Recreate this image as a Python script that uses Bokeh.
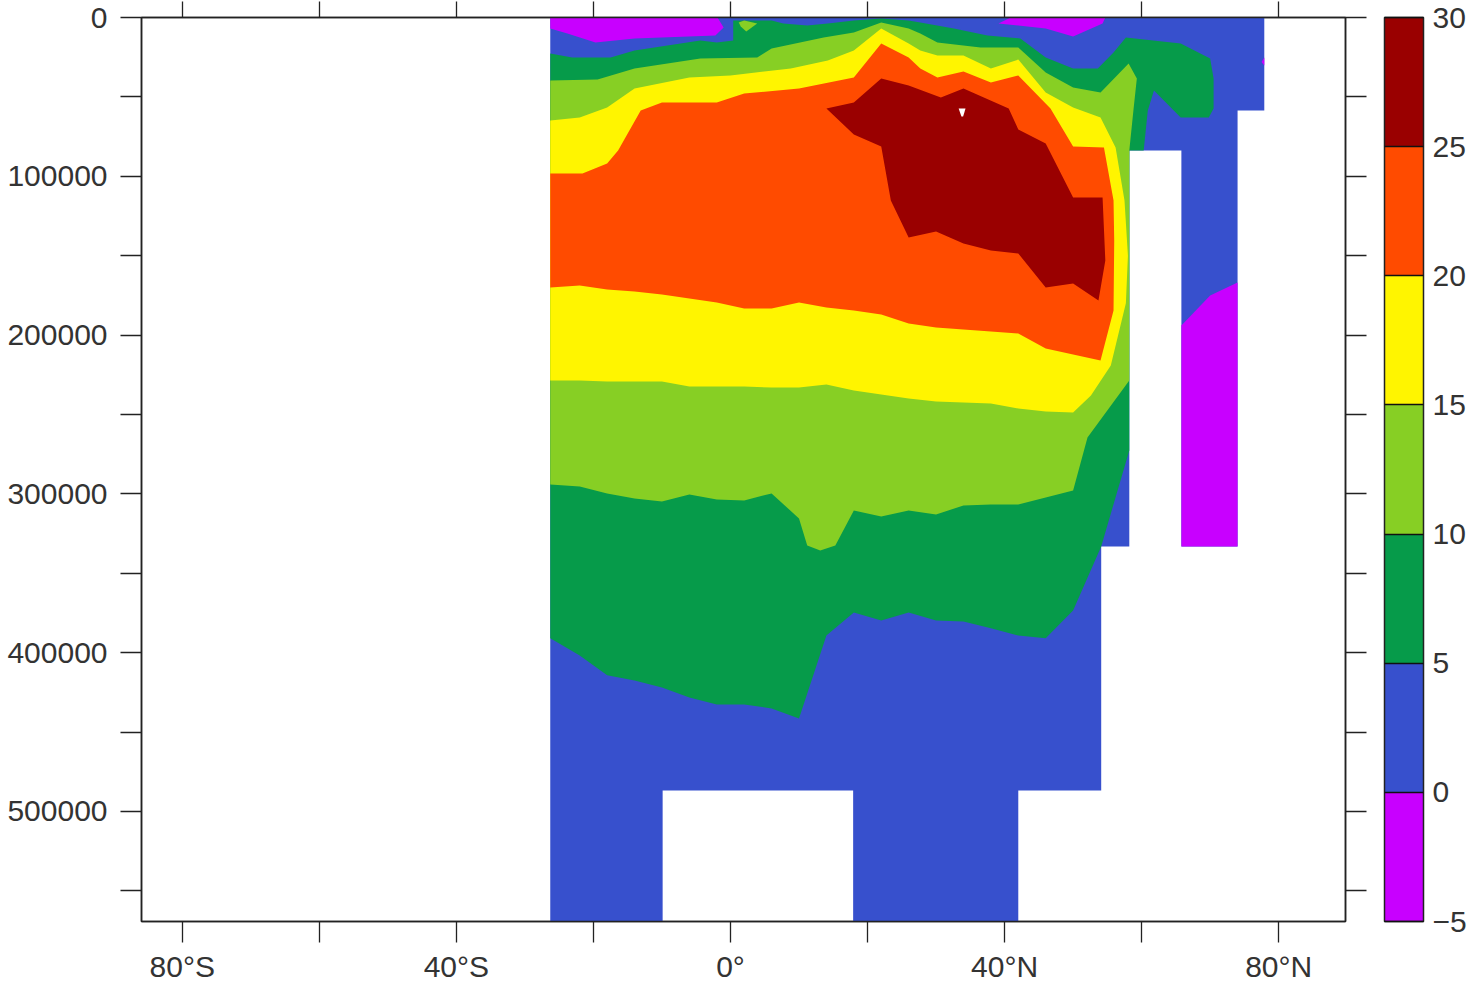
from bokeh.plotting import figure
from bokeh.models import FixedTicker, LinearAxis, Range1d, ColorBar, LinearColorMapper
from bokeh.embed import file_html
from bokeh.resources import INLINE

level_ticks = [-5, 0, 5, 10, 15, 20, 25, 30]
level_colors = ["#C800FF", "#3750CD", "#069B4A", "#87CF24", "#FFF500", "#FF4B00", "#9A0000"]
lat_ticks = [-80, -60, -40, -20, 0, 20, 40, 60, 80]
lat_labels = {-80: "80°S", -60: "", -40: "40°S", -20: "", 0: "0°", 20: "", 40: "40°N", 60: "", 80: "80°N"}
depth_ticks = [0, 50000, 100000, 150000, 200000, 250000, 300000, 350000, 400000, 450000, 500000, 550000]
depth_labels = {0: "0", 50000: "", 100000: "100000", 150000: "", 200000: "200000", 250000: "", 300000: "300000",
                350000: "", 400000: "400000", 450000: "", 500000: "500000", 550000: ""}
blank_lat = {t: "" for t in lat_ticks}
blank_depth = {t: "" for t in depth_ticks}

ocean_lat = [-26.3, 77.9, 77.9, 74, 74, 65.8, 65.8, 58.2, 58.2, 54.1, 54.1, 42, 42, 17.9, 17.9, -9.9, -9.9, -26.3]
ocean_depth = [0, 0, 58600, 58600, 333100, 333100, 83800, 83800, 333100, 333100, 486800, 486800, 569300, 569300,
               486800, 486800, 569300, 569300]

above5_lat = [-26.3, -23.1, -17.5, -14, -4.4, -2, 0.4, 0.4, 6, 7.7, 11.2, 14.2, 18, 22, 26, 27.7, 32.6, 37.5, 42.3,
              46, 50, 53.6, 55.9, 57.7, 65.7, 70, 70.5, 70.5, 69.8, 65.7, 61.8, 60.9, 60.3, 58.2, 58.2, 54.1, 50, 46,
              42, 38, 34, 30, 26, 22, 18, 14, 10, 6, 2, -2, -6, -10, -14, -18, -22, -26.3]
above5_depth = [22700, 25200, 25200, 20800, 14500, 15700, 14500, 1900, 1900, 3800, 5000, 3800, 1900, 600, 1900, 3100,
                6900, 11300, 13200, 25200, 32100, 32100, 22000, 12600, 16400, 25800, 38400, 57300, 63000, 63000,
                46000, 58600, 83800, 83800, 272700, 333100, 373400, 391000, 389200, 384700, 380300, 379700, 374700,
                379700, 374700, 389200, 441400, 435100, 432600, 432600, 428200, 421900, 417500, 414300, 401800, 391000]

above10_lat = [-26.3, -19.4, -14, -4.4, 3.9, 6, 13.6, 18, 22, 26, 27.7, 30.2, 36.5, 42, 46, 50, 54, 58.1, 59.3, 58.8,
               58.2, 58.2, 52.1, 50, 46, 42, 38, 34, 30, 26, 22, 18, 15.3, 13.1, 11.2, 10, 6, 2, -2, -6, -10, -14,
               -18, -22, -26.3]
above10_depth = [39700, 39000, 32100, 25800, 25200, 19500, 12600, 9400, 3100, 6900, 10100, 15700, 18900, 18900, 34600,
                 44100, 47200, 29000, 38400, 58600, 83800, 228600, 264500, 297900, 302300, 306700, 306700, 307300,
                 313000, 310400, 314200, 310400, 332500, 335600, 332500, 315500, 299700, 304100, 303500, 300400,
                 304800, 302900, 299700, 295300, 294100]
spot10_lat = [2, 1.2, 1.5, 2.3, 3.9]
spot10_depth = [1900, 3100, 5700, 8800, 3800]

above15_lat = [-26.3, -22, -18, -14, -6, 0, 8.8, 14.2, 18, 22, 26, 27.7, 30.2, 34, 38, 42, 46, 50, 54, 56.2, 57.5, 58,
               57.7, 55.5, 52.6, 50, 46, 42, 38, 34, 30, 26, 22, 18, 14, 10, 6, 2, -2, -6, -10, -14, -18, -22, -26.3]
above15_depth = [64900, 63000, 56700, 44700, 37800, 36500, 32100, 27100, 20800, 6900, 16400, 20800, 23900, 23900,
                 32100, 26500, 47200, 56700, 63000, 81900, 115200, 150000, 180000, 219100, 238000, 248700, 248100,
                 246200, 243100, 242400, 241800, 239900, 237400, 234900, 231100, 233000, 233000, 232400, 232400,
                 232400, 229200, 229200, 229200, 228600, 228600]

above20_lat = [-26.3, -21.6, -18, -16.4, -13.1, -10, -2, 2, 10, 18, 22, 26, 27.7, 30.2, 34, 38, 42, 46.7, 50, 54.5,
               55.9, 56, 55.9, 54, 50, 46, 42, 38, 34, 30, 26, 22, 18, 14, 10, 6, 2, -2, -6, -10, -14, -18, -22, -26.3]
above20_depth = [98200, 98200, 91900, 83800, 58600, 53500, 53500, 47900, 44700, 37800, 16400, 25200, 32100, 37800,
                 34000, 40900, 36500, 57300, 81200, 81900, 115200, 140400, 184500, 216000, 212200, 208400, 199000,
                 197700, 196500, 195200, 192700, 187000, 184500, 182600, 179500, 183200, 183200, 179500, 176900,
                 174400, 172500, 171300, 168800, 170000]

above25_lat = [14, 18, 22, 26, 30.7, 34, 40.6, 42, 46, 50, 54.3, 54.7, 53.7, 50, 46, 42, 38, 34, 30, 26, 23.4, 22, 18]
above25_depth = [57300, 53500, 38400, 42800, 50400, 44700, 57300, 70500, 79300, 113300, 113300, 153000, 178200, 167500,
                 170000, 148600, 146700, 142300, 134800, 138500, 115200, 81200, 73700]
hole_lat = [33.3, 34.3, 33.95, 33.7]
hole_depth = [57300, 57300, 62300, 62300]

below0a_lat = [-26.3, -1.9, -1, -2.2, -14, -19.7, -23.8, -26.3]
below0a_depth = [0, 0, 6300, 11300, 13200, 15700, 10100, 6900]
below0b_lat = [39.1, 40.9, 54.7, 54.3, 50, 46]
below0b_depth = [3800, 0, 0, 3800, 12000, 6900]
below0c_lat = [77.9, 77.5, 77.9]
below0c_depth = [25200, 28000, 30200]
below0d_lat = [65.8, 70, 74, 74, 65.8]
below0d_depth = [193900, 175100, 166900, 333100, 333100]

FONT = "Liberation Sans"
INK = "#333333"

p = figure(frame_width=1204, frame_height=904, output_backend="svg", toolbar_location=None,
           x_range=Range1d(-85.95, 89.75), y_range=Range1d(569300, 0),
           min_border_left=141, min_border_top=17, min_border_right=0, min_border_bottom=0,
           x_axis_location=None, y_axis_location=None, background_fill_color="white",
           outline_line_color="#222222", outline_line_width=1.5)
p.grid.visible = False

layers = [
    (ocean_lat, ocean_depth, level_colors[1]),
    (below0a_lat, below0a_depth, level_colors[0]),
    (below0b_lat, below0b_depth, level_colors[0]),
    (below0c_lat, below0c_depth, level_colors[0]),
    (below0d_lat, below0d_depth, level_colors[0]),
    (above5_lat, above5_depth, level_colors[2]),
    (spot10_lat, spot10_depth, level_colors[3]),
    (above10_lat, above10_depth, level_colors[3]),
    (above15_lat, above15_depth, level_colors[4]),
    (above20_lat, above20_depth, level_colors[5]),
    (above25_lat, above25_depth, level_colors[6]),
    (hole_lat, hole_depth, "white"),
]
for xs, ys, col in layers:
    p.patch(xs, ys, fill_color=col, line_color=None)


def style(ax, ticks, labels, size, standoff, out=21):
    ax.ticker = FixedTicker(ticks=ticks, minor_ticks=[])
    ax.axis_line_color = "#222222"
    ax.axis_line_width = 1.5
    ax.major_tick_line_color = "#222222"
    ax.major_tick_line_width = 1.3
    ax.major_tick_in = 0
    ax.major_tick_out = out
    ax.minor_tick_line_color = None
    ax.major_label_overrides = labels
    ax.major_label_text_font = FONT
    ax.major_label_text_font_size = size
    ax.major_label_text_color = INK
    ax.major_label_standoff = standoff


left = LinearAxis(); style(left, depth_ticks, depth_labels, "30px", 13); p.add_layout(left, "left")
bottom = LinearAxis(); style(bottom, lat_ticks, lat_labels, "30px", 7); p.add_layout(bottom, "below")
top = LinearAxis(); style(top, lat_ticks, blank_lat, "1px", 0, out=16); p.add_layout(top, "above")
right = LinearAxis(); style(right, depth_ticks, blank_depth, "1px", 0); p.add_layout(right, "right")

mapper = LinearColorMapper(palette=level_colors, low=level_ticks[0], high=level_ticks[-1])
bar = ColorBar(color_mapper=mapper, ticker=FixedTicker(ticks=level_ticks), width=39, height=904,
               major_label_overrides={-5: "−5"}, major_label_text_font=FONT,
               major_label_text_font_size="30px", major_label_text_color=INK,
               major_tick_line_color="#111111", major_tick_line_width=1.3, major_tick_in=39, major_tick_out=0,
               minor_tick_line_color=None, bar_line_color="#222222", bar_line_width=1.5,
               label_standoff=9, margin=0, padding=0, location=(18, 0), border_line_color=None,
               background_fill_color=None)
p.add_layout(bar, "right")

open("out.html", "w").write(file_html(p, INLINE))
